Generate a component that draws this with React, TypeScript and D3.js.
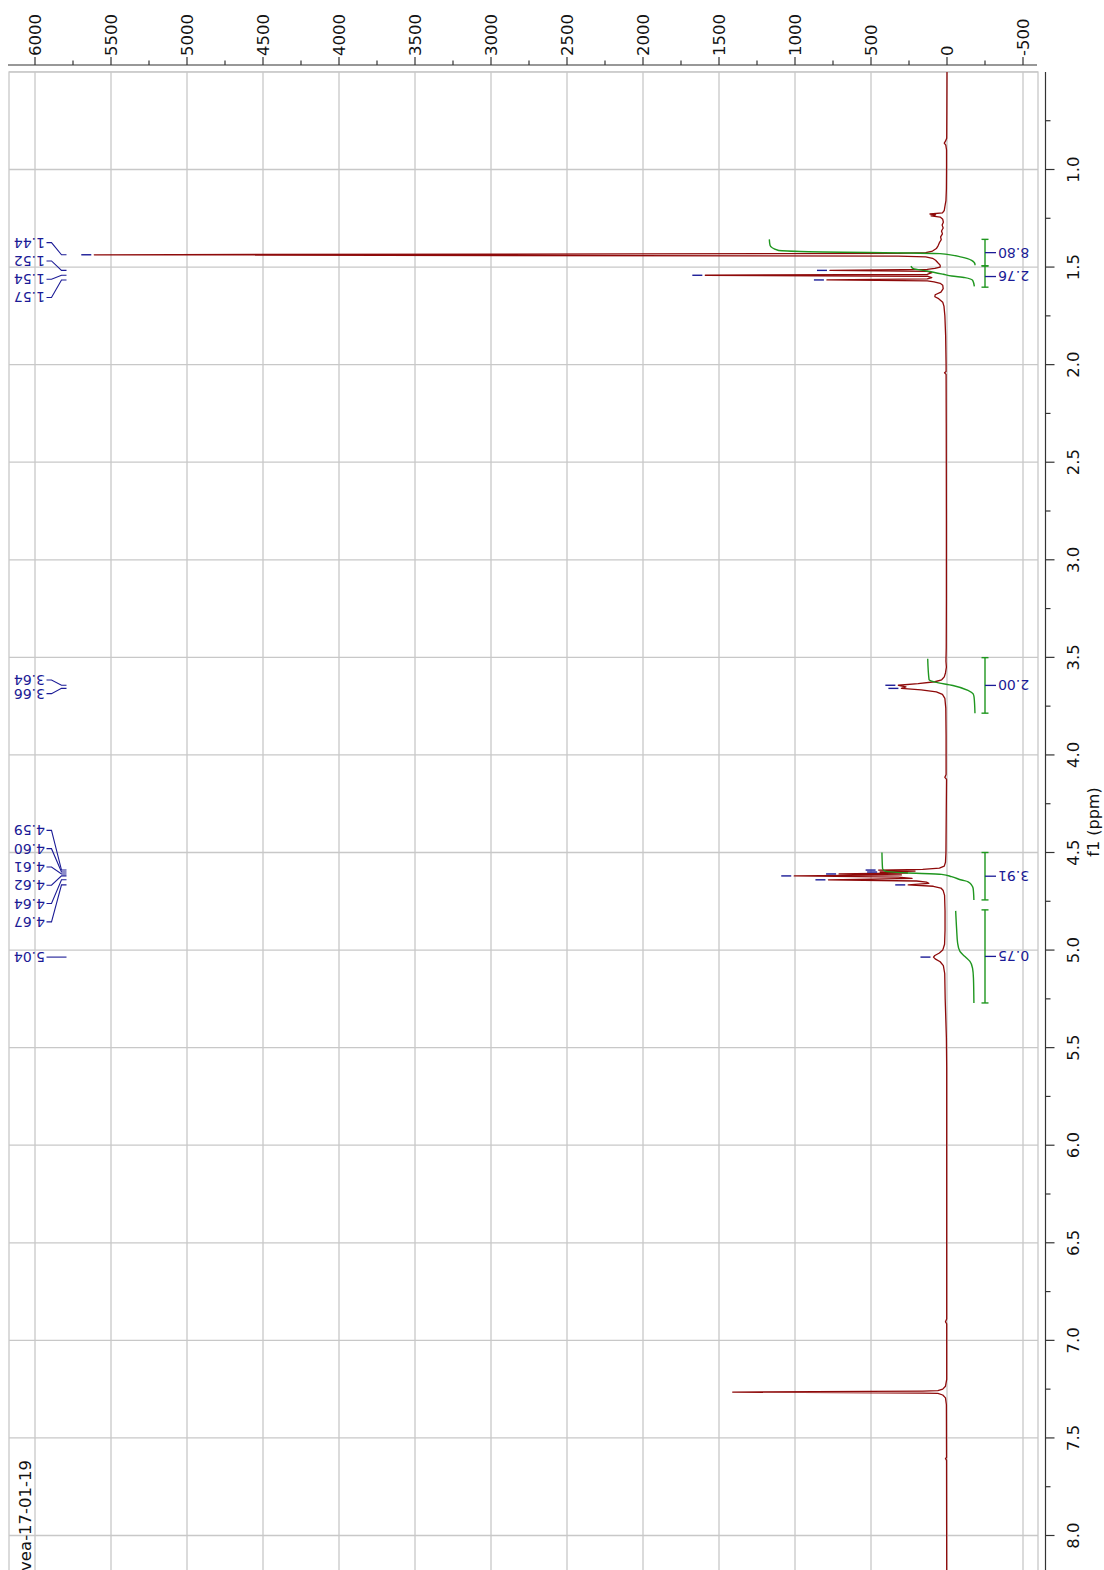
import React from "react";
import * as d3 from "d3";

const W = 1104;
const H = 1570;

// ---------- data ----------
const intensityTicks = [6000, 5500, 5000, 4500, 4000, 3500, 3000, 2500, 2000, 1500, 1000, 500, 0, -500];
const intensityMinorTicks = [5750, 5250, 4750, 4250, 3750, 3250, 2750, 2250, 1750, 1250, 750, 250, -250];
const ppmTicks = [1.0, 1.5, 2.0, 2.5, 3.0, 3.5, 4.0, 4.5, 5.0, 5.5, 6.0, 6.5, 7.0, 7.5, 8.0];
const ppmMinorTicks = [0.75, 1.25, 1.75, 2.25, 2.75, 3.25, 3.75, 4.25, 4.75, 5.25, 5.75, 6.25, 6.75, 7.25, 7.75];
const ppmGrid = [0.5, 1.0, 1.5, 2.0, 2.5, 3.0, 3.5, 4.0, 4.5, 5.0, 5.5, 6.0, 6.5, 7.0, 7.5, 8.0];

// spectrum trace: [ppm, intensity]
const spectrum: [number, number][] = [
  [0.5, 0], [0.7, 1], [0.84, 2], [0.855, 10], [0.865, 18], [0.875, 8], [0.9, 3], [1.0, 3],
  [1.1, 4], [1.16, 7], [1.19, 14], [1.21, 18], [1.222, 30], [1.228, 112], [1.233, 75],
  [1.238, 105], [1.244, 45], [1.255, 28], [1.27, 24], [1.285, 32], [1.3, 25], [1.315, 36],
  [1.33, 30], [1.345, 42], [1.36, 38], [1.375, 50], [1.39, 58], [1.405, 70], [1.418, 95],
  [1.426, 140], [1.43, 320], [1.437, 5610], [1.444, 320], [1.448, 140], [1.455, 95],
  [1.465, 75], [1.478, 60], [1.49, 45], [1.5, 45], [1.507, 80], [1.512, 130], [1.517, 770],
  [1.522, 130], [1.529, 100], [1.537, 130], [1.542, 1590], [1.547, 130], [1.554, 100],
  [1.561, 130], [1.566, 790], [1.571, 130], [1.576, 85], [1.583, 45], [1.593, 28],
  [1.61, 25], [1.628, 40], [1.642, 78], [1.652, 80], [1.662, 55], [1.68, 28], [1.7, 20],
  [1.75, 14], [1.85, 9], [2.0, 6], [2.035, 6], [2.042, 16], [2.05, 6], [2.3, 5], [2.8, 4],
  [3.2, 4], [3.45, 5], [3.52, 7], [3.55, 4], [3.58, 10], [3.6, 18], [3.615, 35], [3.625, 80],
  [3.635, 190], [3.643, 320], [3.651, 270], [3.659, 300], [3.667, 170], [3.677, 70],
  [3.69, 30], [3.71, 14], [3.76, 8], [3.9, 6], [4.1, 6], [4.115, 14], [4.125, 3], [4.3, 5],
  [4.5, 7], [4.55, 10], [4.57, 18], [4.58, 50], [4.586, 160], [4.59, 450], [4.595, 210],
  [4.6, 440], [4.605, 260], [4.61, 710], [4.615, 300], [4.62, 1005], [4.626, 320],
  [4.633, 230], [4.64, 780], [4.646, 200], [4.652, 135], [4.658, 120], [4.666, 255],
  [4.673, 90], [4.682, 40], [4.695, 25], [4.72, 16], [4.8, 13], [4.9, 13], [4.97, 16],
  [5.0, 28], [5.015, 50], [5.028, 80], [5.036, 89], [5.045, 78], [5.06, 45], [5.08, 24],
  [5.12, 15], [5.25, 12], [5.35, 8], [5.45, 4], [5.6, 2], [6.0, 2], [6.5, 2], [6.89, 2],
  [6.905, 10], [6.915, 2], [7.2, 2], [7.235, 10], [7.25, 28], [7.258, 60], [7.26, 160],
  [7.265, 1410], [7.27, 160], [7.272, 60], [7.28, 28], [7.295, 10], [7.33, 4], [7.6, 3],
  [7.605, 10], [7.615, 3], [8.2, 2],
];

// labelled peaks
const peakPpm = [1.437, 1.517, 1.542, 1.566, 3.643, 3.659, 4.59, 4.6, 4.61, 4.62, 4.64, 4.666, 5.036];
const peakHeight = [5610, 770, 1590, 790, 320, 300, 450, 440, 710, 1005, 780, 255, 89];
const peakGroup = [0, 0, 0, 0, 1, 1, 2, 2, 2, 2, 2, 2, 3];

// integrals
const integralFrom = [1.358, 1.494, 3.5015, 4.5, 4.794];
const integralTo = [1.494, 1.603, 3.786, 4.743, 5.271];
const integralValue = [8.8, 2.76, 2.0, 3.91, 0.75];
const integralCurveA: [number, number][] = [
  [1.358, 1169], [1.389, 1164], [1.414, 1112], [1.42, 967], [1.431, 46], [1.449, -97],
  [1.466, -162], [1.486, -184], [1.491, -184],
];
const integralCurveB: [number, number][] = [
  [1.495, 237], [1.508, 222], [1.52, 134], [1.537, 24], [1.546, -31], [1.554, -118],
  [1.568, -169], [1.599, -180],
];
const integralCurveC: [number, number][] = [
  [3.507, 127], [3.614, 118], [3.627, 79], [3.644, -39], [3.669, -138], [3.686, -171],
  [3.703, -178], [3.786, -184],
];
const integralCurveD: [number, number][] = [
  [4.5, 428], [4.582, 424], [4.595, 407], [4.604, 276], [4.612, 35], [4.624, -30],
  [4.641, -96], [4.65, -139], [4.667, -162], [4.684, -172], [4.743, -177],
];
const integralCurveE: [number, number][] = [
  [4.799, -57], [4.888, -63], [4.965, -70], [5.007, -85], [5.033, -118], [5.058, -151],
  [5.092, -168], [5.143, -174], [5.271, -177],
];
const integralCurves = [integralCurveA, integralCurveB, integralCurveC, integralCurveD, integralCurveE];

const sampleName = "vea-17-01-19";
const axisTitle = "f1 (ppm)";

// ---------- styles ----------
const RED = "#8e0a0a";
const GREEN = "#1f961f";
const BLUE = "#1b1b96";
const GRID = "#c8c8c8";
const AXIS = "#333333";
const FONT = "'DejaVu Sans', Verdana, sans-serif";

export default function App() {
  const x = d3.scaleLinear().domain([6000, -500]).range([35, 1023]);
  const y = d3.scaleLinear().domain([1.0, 8.0]).range([169.5, 1535.5]);

  const frameL = 9;
  const frameR = 1038;
  const frameT = 72;
  const axisTopY = 65;
  const axisRightX = 1045.5;

  const specLine = d3
    .line<[number, number]>()
    .x((d) => x(d[1]))
    .y((d) => y(d[0]))
    .curve(d3.curveLinear);

  const intLine = d3
    .line<[number, number]>()
    .x((d) => x(d[1]))
    .y((d) => y(d[0]))
    .curve(d3.curveMonotoneY);

  // label layout for peak groups
  const groups = d3.group(
    peakPpm.map((p, i) => ({ p, h: peakHeight[i], g: peakGroup[i], i })),
    (d) => d.g
  );
  const peakLabels: { p: number; h: number; ly: number }[] = [];
  groups.forEach((arr) => {
    const n = arr.length;
    const spacing = n === 2 ? 13.7 : 18.3;
    const center = d3.mean(arr, (d) => y(d.p)) as number;
    arr.forEach((d, k) => {
      peakLabels.push({ p: d.p, h: d.h, ly: center + (k - (n - 1) / 2) * spacing });
    });
  });

  return (
    <svg
      width={W}
      height={H}
      style={{ position: "absolute", left: 0, top: 0, background: "#fff" }}
      fontFamily={FONT}
    >
      {/* grid */}
      {intensityTicks.map((t) => (
        <line key={"vg" + t} x1={x(t)} x2={x(t)} y1={frameT} y2={H + 5} stroke={GRID} strokeWidth={1.3} />
      ))}
      {ppmGrid.map((t) => (
        <line key={"hg" + t} x1={frameL} x2={frameR} y1={y(t)} y2={y(t)} stroke={GRID} strokeWidth={1.3} />
      ))}
      {/* frame */}
      <rect x={frameL} y={frameT} width={frameR - frameL} height={H} fill="none" stroke={GRID} strokeWidth={1.3} />

      {/* top axis */}
      <line x1={8} x2={1037} y1={axisTopY} y2={axisTopY} stroke={AXIS} strokeWidth={1.2} />
      {intensityTicks.map((t) => (
        <g key={"tt" + t}>
          <line x1={x(t)} x2={x(t)} y1={axisTopY - 8} y2={axisTopY} stroke={AXIS} strokeWidth={1.2} />
          <text
            transform={`translate(${x(t)},${axisTopY - 9}) rotate(-90)`}
            dy="0.36em"
            textAnchor="start"
            fontSize={16.5}
            fill="#111"
          >
            {t}
          </text>
        </g>
      ))}
      {intensityMinorTicks.map((t) => (
        <line key={"tm" + t} x1={x(t)} x2={x(t)} y1={axisTopY - 4.5} y2={axisTopY} stroke={AXIS} strokeWidth={1.2} />
      ))}

      {/* right axis */}
      <line x1={axisRightX} x2={axisRightX} y1={frameT} y2={H + 5} stroke={AXIS} strokeWidth={1.2} />
      {ppmTicks.map((t) => (
        <g key={"rt" + t}>
          <line x1={axisRightX} x2={axisRightX + 9} y1={y(t)} y2={y(t)} stroke={AXIS} strokeWidth={1.2} />
          <text
            transform={`translate(1073,${y(t)}) rotate(-90)`}
            dy="0.36em"
            textAnchor="middle"
            fontSize={16.5}
            fill="#111"
          >
            {t.toFixed(1)}
          </text>
        </g>
      ))}
      {ppmMinorTicks.map((t) => (
        <line key={"rm" + t} x1={axisRightX} x2={axisRightX + 5} y1={y(t)} y2={y(t)} stroke={AXIS} strokeWidth={1.2} />
      ))}
      <text transform={`translate(1093,822) rotate(-90)`} dy="0.36em" textAnchor="middle" fontSize={16} fill="#111">
        {axisTitle}
      </text>

      {/* spectrum */}
      <path d={specLine(spectrum) || ""} fill="none" stroke={RED} strokeWidth={1.3} strokeLinejoin="round" />

      {/* integrals */}
      {integralCurves.map((c, i) => (
        <path key={"ic" + i} d={intLine(c) || ""} fill="none" stroke={GREEN} strokeWidth={1.4} />
      ))}
      {integralValue.map((v, i) => {
        const y0 = y(integralFrom[i]);
        const y1 = y(integralTo[i]);
        const ym = (y0 + y1) / 2;
        const bx = 985;
        return (
          <g key={"ib" + i}>
            <line x1={bx} x2={bx} y1={y0} y2={y1} stroke={GREEN} strokeWidth={1.4} />
            <line x1={bx - 3.5} x2={bx + 3.5} y1={y0} y2={y0} stroke={GREEN} strokeWidth={1.4} />
            <line x1={bx - 3.5} x2={bx + 3.5} y1={y1} y2={y1} stroke={GREEN} strokeWidth={1.4} />
            <line x1={bx} x2={bx + 11} y1={ym} y2={ym} stroke={BLUE} strokeWidth={1.3} />
            <text
              transform={`translate(998,${ym}) rotate(180)`}
              dy="0.36em"
              textAnchor="end"
              fontSize={14}
              fill={BLUE}
            >
              {v.toFixed(2)}
            </text>
          </g>
        );
      })}

      {/* peak labels */}
      {peakLabels.map((d, i) => {
        const py = y(d.p);
        const tipX = x(d.h);
        return (
          <g key={"pl" + i}>
            <line x1={tipX - 13} x2={tipX - 3} y1={py} y2={py} stroke={BLUE} strokeWidth={1.4} />
            <path
              d={`M46.5,${d.ly}H51.5L61.5,${py}H66.5`}
              fill="none"
              stroke={BLUE}
              strokeWidth={1.1}
            />
            <text
              transform={`translate(45,${d.ly}) rotate(180)`}
              dy="0.36em"
              textAnchor="start"
              fontSize={14}
              fill={BLUE}
            >
              {d.p.toFixed(2)}
            </text>
          </g>
        );
      })}

      {/* sample name */}
      <text transform={`translate(31,1460) rotate(-90)`} textAnchor="end" fontSize={16.5} fill="#111">
        {sampleName}
      </text>
    </svg>
  );
}
